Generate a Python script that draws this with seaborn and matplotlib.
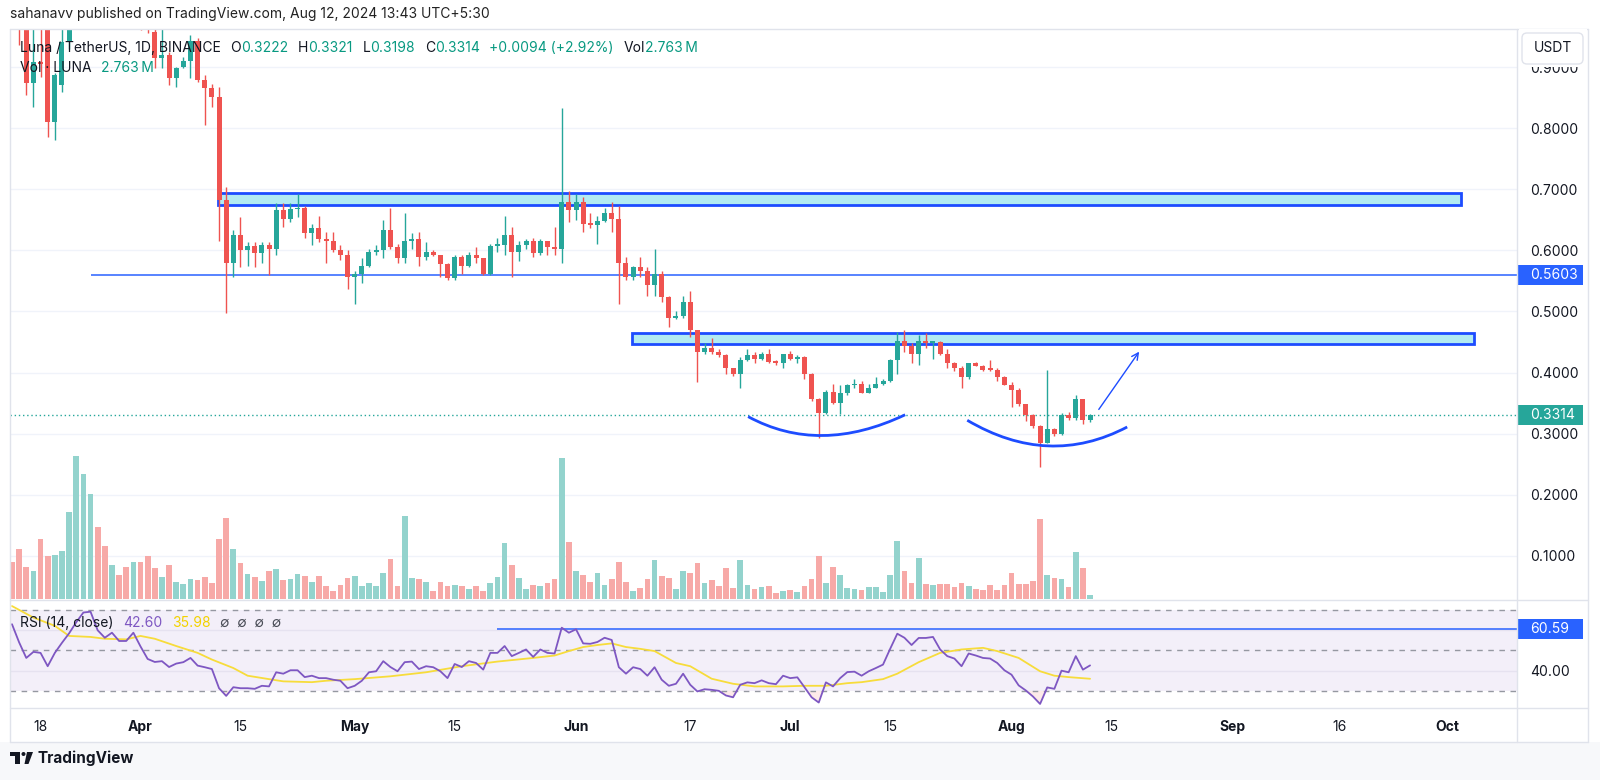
import numpy as np
import pandas as pd
import matplotlib
matplotlib.use('Agg')
import matplotlib.pyplot as plt
import matplotlib.dates as mdates
from matplotlib.patches import Rectangle, FancyBboxPatch, PathPatch, Circle, Polygon
from matplotlib.path import Path
from matplotlib.lines import Line2D
from matplotlib.transforms import blended_transform_factory, IdentityTransform
import seaborn as sns

sns.set_theme(style='white')
plt.rcParams['font.family'] = ['Inter', 'DejaVu Sans']

# ---- data (daily LUNA/USDT) ----
dates = pd.date_range('2024-03-14', periods=152, freq='D')

opens = [1.000, 0.990, 0.975, 0.874, 0.909, 0.975, 0.810, 0.870, 0.941, 0.975,
         1.010, 1.050, 1.065, 1.020, 1.000, 1.020, 1.000, 0.995, 1.020, 0.966,
         0.957, 0.915, 0.920, 0.882, 0.900, 0.910, 0.943, 0.879, 0.866, 0.851,
         0.682, 0.579, 0.625, 0.600, 0.607, 0.595, 0.608, 0.603, 0.666, 0.651,
         0.667, 0.670, 0.628, 0.636, 0.618, 0.616, 0.600, 0.593, 0.556, 0.562,
         0.575, 0.598, 0.601, 0.633, 0.605, 0.587, 0.615, 0.618, 0.589, 0.597,
         0.592, 0.577, 0.554, 0.589, 0.575, 0.593, 0.587, 0.562, 0.607, 0.609,
         0.626, 0.597, 0.608, 0.616, 0.595, 0.615, 0.605, 0.603, 0.680, 0.666,
         0.679, 0.643, 0.642, 0.648, 0.661, 0.652, 0.579, 0.556, 0.572, 0.566,
         0.543, 0.562, 0.523, 0.490, 0.493, 0.516, 0.469, 0.434, 0.441, 0.433,
         0.429, 0.407, 0.398, 0.421, 0.428, 0.423, 0.430, 0.418, 0.416, 0.430,
         0.423, 0.425, 0.398, 0.356, 0.334, 0.369, 0.351, 0.366, 0.379, 0.381,
         0.367, 0.375, 0.382, 0.387, 0.421, 0.451, 0.444, 0.430, 0.451, 0.448,
         0.450, 0.430, 0.415, 0.408, 0.392, 0.415, 0.411, 0.405, 0.404, 0.393,
         0.380, 0.372, 0.348, 0.330, 0.313, 0.285, 0.308, 0.300, 0.331, 0.325,
         0.356, 0.3222]
closes = [0.990, 0.975, 0.874, 0.909, 0.905, 0.810, 0.887, 0.941, 0.975, 1.010,
          1.050, 1.065, 1.020, 1.000, 1.020, 1.000, 0.995, 1.020, 0.966, 0.961,
          0.915, 0.920, 0.882, 0.898, 0.910, 0.943, 0.879, 0.866, 0.851, 0.682,
          0.579, 0.625, 0.600, 0.607, 0.595, 0.608, 0.603, 0.666, 0.651, 0.667,
          0.670, 0.628, 0.636, 0.618, 0.616, 0.600, 0.593, 0.556, 0.562, 0.575,
          0.598, 0.601, 0.633, 0.605, 0.587, 0.615, 0.618, 0.589, 0.597, 0.592,
          0.577, 0.554, 0.589, 0.575, 0.593, 0.587, 0.562, 0.607, 0.609, 0.626,
          0.597, 0.608, 0.616, 0.595, 0.615, 0.605, 0.603, 0.680, 0.666, 0.679,
          0.643, 0.642, 0.648, 0.661, 0.652, 0.579, 0.556, 0.572, 0.566, 0.543,
          0.562, 0.523, 0.490, 0.493, 0.516, 0.469, 0.434, 0.441, 0.433, 0.429,
          0.407, 0.398, 0.421, 0.428, 0.423, 0.430, 0.418, 0.416, 0.430, 0.423,
          0.425, 0.398, 0.356, 0.334, 0.369, 0.351, 0.366, 0.379, 0.381, 0.367,
          0.375, 0.382, 0.387, 0.421, 0.451, 0.444, 0.430, 0.451, 0.448, 0.450,
          0.430, 0.415, 0.408, 0.392, 0.415, 0.411, 0.405, 0.404, 0.393, 0.380,
          0.372, 0.348, 0.330, 0.313, 0.285, 0.308, 0.300, 0.331, 0.325, 0.356,
          0.3222, 0.3314]
highs = [1.010, 1.000, 0.980, 0.970, 0.965, 0.980, 0.890, 0.962, 0.990, 1.030,
         1.070, 1.090, 1.070, 1.030, 1.030, 1.025, 1.010, 1.030, 1.025, 0.975,
         0.964, 0.962, 0.925, 0.900, 0.916, 0.952, 0.947, 0.887, 0.872, 0.867,
         0.703, 0.633, 0.654, 0.613, 0.613, 0.613, 0.613, 0.677, 0.677, 0.677,
         0.693, 0.672, 0.644, 0.657, 0.630, 0.630, 0.608, 0.600, 0.567, 0.587,
         0.603, 0.608, 0.649, 0.670, 0.610, 0.662, 0.628, 0.630, 0.613, 0.600,
         0.593, 0.579, 0.592, 0.592, 0.598, 0.605, 0.588, 0.611, 0.621, 0.656,
         0.638, 0.616, 0.618, 0.620, 0.618, 0.616, 0.638, 0.833, 0.698, 0.693,
         0.687, 0.662, 0.657, 0.670, 0.679, 0.672, 0.589, 0.575, 0.589, 0.572,
         0.603, 0.566, 0.525, 0.500, 0.525, 0.533, 0.470, 0.448, 0.456, 0.438,
         0.430, 0.408, 0.425, 0.439, 0.433, 0.433, 0.438, 0.420, 0.431, 0.436,
         0.428, 0.427, 0.400, 0.359, 0.372, 0.382, 0.379, 0.382, 0.389, 0.387,
         0.382, 0.393, 0.390, 0.423, 0.467, 0.469, 0.448, 0.461, 0.464, 0.452,
         0.452, 0.439, 0.418, 0.411, 0.416, 0.418, 0.413, 0.420, 0.408, 0.395,
         0.384, 0.374, 0.349, 0.333, 0.315, 0.405, 0.310, 0.334, 0.336, 0.364,
         0.357, 0.3321]
lows = [0.975, 0.936, 0.854, 0.834, 0.884, 0.785, 0.780, 0.860, 0.930, 0.965,
        1.000, 1.030, 1.000, 0.985, 0.990, 0.990, 0.985, 0.990, 0.960, 0.955,
        0.898, 0.898, 0.870, 0.867, 0.898, 0.882, 0.875, 0.805, 0.834, 0.616,
        0.498, 0.557, 0.572, 0.575, 0.572, 0.579, 0.559, 0.592, 0.638, 0.646,
        0.654, 0.620, 0.608, 0.613, 0.580, 0.597, 0.584, 0.536, 0.513, 0.546,
        0.572, 0.592, 0.587, 0.603, 0.580, 0.580, 0.603, 0.575, 0.584, 0.590,
        0.556, 0.551, 0.551, 0.562, 0.572, 0.579, 0.559, 0.559, 0.597, 0.592,
        0.556, 0.582, 0.603, 0.589, 0.592, 0.592, 0.592, 0.579, 0.646, 0.649,
        0.630, 0.636, 0.611, 0.646, 0.630, 0.513, 0.551, 0.551, 0.556, 0.526,
        0.526, 0.515, 0.474, 0.488, 0.490, 0.459, 0.384, 0.430, 0.430, 0.425,
        0.398, 0.395, 0.375, 0.419, 0.415, 0.420, 0.416, 0.413, 0.407, 0.420,
        0.415, 0.389, 0.354, 0.293, 0.333, 0.349, 0.333, 0.364, 0.374, 0.366,
        0.366, 0.374, 0.380, 0.385, 0.398, 0.433, 0.416, 0.413, 0.441, 0.423,
        0.428, 0.407, 0.403, 0.374, 0.390, 0.410, 0.403, 0.403, 0.387, 0.379,
        0.343, 0.346, 0.321, 0.310, 0.246, 0.284, 0.297, 0.298, 0.323, 0.323,
        0.316, 0.3198]
volume = [23.5, 32.0, 20.7, 17.7, 38.4, 27.7, 28.2, 30.7, 55.5, 91.1,
          79.6, 67.2, 45.9, 34.1, 21.8, 15.4, 20.3, 23.5, 23.5, 27.3,
          19.8, 14.3, 21.8, 10.7, 9.6, 12.8, 12.2, 13.9, 10.2, 38.0,
          51.6, 32.0, 22.8, 16.0, 14.3, 11.7, 17.9, 19.2, 12.2, 12.8,
          16.0, 14.5, 11.1, 14.5, 8.5, 5.1, 9.0, 13.2, 14.9, 8.5,
          10.0, 8.5, 16.4, 25.6, 8.1, 52.9, 13.2, 12.8, 10.7, 5.1,
          10.7, 8.5, 9.0, 8.1, 6.4, 8.1, 5.1, 10.0, 13.9, 35.8,
          22.0, 13.2, 6.4, 9.0, 8.5, 10.0, 12.8, 90.2, 36.3, 17.9,
          15.4, 10.7, 16.4, 9.0, 12.8, 23.5, 11.1, 5.1, 7.2, 12.8,
          25.2, 14.7, 13.2, 6.2, 17.7, 16.4, 23.0, 10.0, 12.2, 8.3,
          19.8, 6.8, 24.8, 9.0, 6.4, 7.5, 8.5, 3.8, 5.3, 5.8,
          4.7, 8.1, 12.8, 27.7, 10.0, 20.7, 15.4, 7.0, 6.2, 5.8,
          7.9, 7.9, 4.7, 15.4, 37.3, 17.7, 10.0, 26.0, 9.4, 9.0,
          9.4, 9.6, 7.9, 10.2, 8.5, 6.2, 5.8, 9.0, 6.0, 9.0,
          16.4, 9.6, 9.6, 11.3, 51.2, 15.6, 13.4, 12.8, 7.9, 30.3,
          19.6, 2.763]
rsi = [63, 54, 46.3, 49.3, 48.8, 42.2, 48.8, 53.8, 58.5, 64,
       68.8, 69.2, 60, 56.3, 58.8, 54.7, 54.7, 58.8, 52, 45.8,
       44.3, 44.7, 41.8, 43.5, 44.2, 46.3, 42.5, 41.7, 40.8, 31.3,
       27.5, 31.8, 31.3, 31.3, 31, 32.5, 32.2, 39.2, 38.5, 40.2,
       40.2, 36.8, 37.5, 36.3, 36.3, 35.5, 35, 31.3, 32.5, 35,
       39.2, 39.7, 44.7, 41.8, 39.7, 44.2, 44.5, 40.8, 42.2, 41.7,
       39.7, 36.3, 43.3, 41.8, 44.7, 43.8, 40.5, 48.8, 48.8, 52.2,
       47.2, 48.8, 50.5, 46.8, 50.5, 48.8, 48.5, 61.3, 58.8, 60.5,
       53.5, 53.3, 54.2, 56.3, 55.2, 41.7, 38.5, 41.7, 40.8, 37.5,
       41.7, 35.5, 32.5, 33.5, 38.5, 33, 29.7, 30.8, 30.5, 30,
       27.7, 26.8, 33, 34.2, 33.8, 35.2, 33.8, 33.3, 37.5, 36.3,
       36.7, 31.8, 26.8, 24.2, 34.2, 32.2, 36.3, 39.3, 39.5, 37.5,
       39.7, 41.3, 43, 50.8, 58.3, 56.3, 52.7, 56.2, 56.2, 56.7,
       50.5, 47.2, 46, 42.2, 48.5, 47.5, 46.3, 46, 43.8, 40.2,
       38, 32.7, 30.2, 27.2, 23.5, 31.7, 31, 40, 39.2, 47.2,
       40.5, 42.6]
# RSI-based MA, read at these day offsets from the first candle
rsi_ma_day = [0, 3, 6, 8, 11, 13, 16, 18, 20, 23, 26, 28, 31, 33, 36, 38, 42, 44,
              48, 53, 58, 63, 68, 73, 76, 78, 80, 82, 84, 86, 88, 90, 93, 95, 98,
              101, 104, 108, 111, 114, 117, 119, 122, 124, 127, 130, 133, 136,
              138, 141, 144, 146, 148, 151]
rsi_ma = [72, 66.3, 62.2, 57.2, 56.7, 55.8, 55.5, 57.2, 55.8, 52.2, 48.8, 45.5,
          41.3, 37.5, 35.8, 34.7, 34.3, 35, 35.8, 37.2, 39.2, 42.2, 44.5, 46.3,
          47.5, 49.7, 51.7, 52.7, 53.5, 51.7, 50.8, 49.7, 43.8, 42.2, 36, 33.5,
          32.2, 32.2, 32.5, 32.5, 33.8, 34.3, 35.8, 38.5, 44.2, 48.8, 50.5, 51.3,
          49.7, 46.3, 39.7, 37.5, 36.8, 35.98]

tick_dates = ['2024-03-18', '2024-04-01', '2024-04-15', '2024-05-01', '2024-05-15',
              '2024-06-01', '2024-06-17', '2024-07-01', '2024-07-15', '2024-08-01',
              '2024-08-15', '2024-09-01', '2024-09-16', '2024-10-01']
tick_labels = ['18', 'Apr', '15', 'May', '15', 'Jun', '17', 'Jul', '15', 'Aug',
               '15', 'Sep', '16', 'Oct']
price_ticks = [0.1, 0.2, 0.3, 0.4, 0.5, 0.6, 0.7, 0.8, 0.9]

resist_line = 0.5603
last_close = 0.3314
rsi_level = 60.59

GREEN = '#26a69a'
RED = '#ef5350'
VOL_GREEN = '#93d3cd'
VOL_RED = '#f7a9a7'
BLUE = '#2962ff'
ARC_BLUE = '#1d4cff'
BOX_FILL = '#b2ebf2'
PURPLE = '#7e57c2'
YELLOW = '#f7dc3b'
TXT = '#131722'
FRAME = '#e0e3eb'

W, H = 1600, 780
fig = plt.figure(figsize=(W / 100, H / 100), dpi=100)
fig.patch.set_facecolor('white')


def frac(l, t, r, b):
    return [l / W, 1 - b / H, (r - l) / W, (b - t) / H]


ax = fig.add_axes(frac(10, 29, 1517, 599))
axr = fig.add_axes(frac(10, 600, 1517, 708), sharex=ax)
axv = ax.twinx()

x = mdates.date2num(dates)
x0 = x[0]
o, h, l, c = (np.array(a) for a in (opens, highs, lows, closes))
up = c >= o
ccol = np.where(up, GREEN, RED)
vcol = np.where(up, VOL_GREEN, VOL_RED)

# ---- main pane ----
for v in price_ticks:
    ax.axhline(v, color='#f0f3fa', lw=1, zorder=0)
ax.vlines(x, l, h, colors=ccol, lw=1, zorder=3)
ax.bar(x, np.maximum(np.abs(c - o), 0.003), bottom=np.minimum(o, c), width=0.7,
       color=ccol, lw=0, zorder=3)

axv.bar(x, volume, width=0.8, color=vcol, lw=0)
axv.set_ylim(0, 364)
axv.axis('off')

ax.set_xlim(x0 - 0.28, x0 + 210.8)
ax.set_ylim(0.0295, 0.9623)

# zones
ax.add_patch(Rectangle((x0 + 28.9, 0.674), 203.0 - 28.9, 0.0195, fc=BOX_FILL,
                       ec=ARC_BLUE, lw=2, zorder=2))
ax.add_patch(Rectangle((x0 + 86.9, 0.446), 204.8 - 86.9, 0.0185, fc=BOX_FILL,
                       ec=ARC_BLUE, lw=2, zorder=2))
ax.hlines(resist_line, x0 + 11.06, x0 + 215, color=BLUE, lw=1.1, zorder=2)
ax.axhline(last_close, color=GREEN, lw=1, ls=(0, (1, 2)), zorder=2)


def arc(p0, pb, p2):
    ctrl = (2 * pb[0] - (p0[0] + p2[0]) / 2, 2 * pb[1] - (p0[1] + p2[1]) / 2)
    path = Path([p0, ctrl, p2], [Path.MOVETO, Path.CURVE3, Path.CURVE3])
    ax.add_patch(PathPatch(path, fc='none', ec=ARC_BLUE, lw=2, zorder=4))


arc((x0 + 103.1, 0.328), (x0 + 113.6, 0.297), (x0 + 125.1, 0.331))
arc((x0 + 133.8, 0.322), (x0 + 145.1, 0.280), (x0 + 156.2, 0.311))
ax.annotate('', xy=(x0 + 158.1, 0.438), xytext=(x0 + 152.0, 0.336),
            arrowprops=dict(arrowstyle='->', color=ARC_BLUE, lw=1, mutation_scale=12),
            zorder=4)

ax.yaxis.tick_right()
ax.set_yticks(price_ticks)
ax.set_yticklabels([f'{v:.4f}' for v in price_ticks])
ax.tick_params(axis='y', length=0, pad=9.4, labelsize=10, labelcolor=TXT)
ax.tick_params(axis='x', length=0, labelbottom=False)

# ---- RSI pane ----
axr.axhspan(30, 70, color=PURPLE, alpha=0.09, lw=0)
for v in (60, 40):
    axr.axhline(v, color='#e6e2f0', lw=1)
for v in (70, 50, 30):
    axr.axhline(v, color='#9598a1', lw=1, ls=(0, (4, 4)))
r = np.array(rsi)
axr.fill_between(x, r, 30, where=r < 30, interpolate=True, color=RED, alpha=0.12, lw=0)
axr.hlines(rsi_level, x0 + 67.9, x0 + 215, color=BLUE, lw=1.1)
sns.lineplot(x=x0 + np.array(rsi_ma_day), y=rsi_ma, ax=axr, color=YELLOW, lw=1.3)
sns.lineplot(x=x, y=r, ax=axr, color=PURPLE, lw=1.3)
axr.set_ylim(21.5, 75)
axr.yaxis.tick_right()
axr.set_yticks([40])
axr.set_yticklabels(['40.00'])
axr.tick_params(axis='y', length=0, pad=9.4, labelsize=10, labelcolor=TXT)
axr.set_xticks(mdates.date2num(pd.to_datetime(tick_dates)))
axr.set_xticklabels(tick_labels)
axr.tick_params(axis='x', length=0, pad=8.5, labelsize=10, labelcolor=TXT)
for lab in axr.get_xticklabels():
    if not lab.get_text().isdigit():
        lab.set_fontweight('bold')
axr.set_xlabel('')
axr.set_ylabel('')

for a in (ax, axr, axv):
    for s in a.spines.values():
        s.set_visible(False)


# value tags on the right scale
def tag(axis, yval, text, color):
    tr = blended_transform_factory(axis.transAxes, axis.transData)
    y0, y1 = axis.get_ylim()
    half = 10 / (axis.bbox.height) * (y1 - y0)
    axis.add_patch(Rectangle((1.0005, yval - half), 65 / 1507, 2 * half, transform=tr,
                             fc=color, ec='none', clip_on=False, zorder=6))
    axis.text(1 + 13 / 1507, yval, text, transform=tr, ha='left', va='center',
              color='white', fontsize=10, zorder=7, clip_on=False)


tag(ax, resist_line, f'{resist_line:.4f}', BLUE)
tag(ax, last_close, f'{last_close:.4f}', GREEN)
tag(axr, rsi_level, f'{rsi_level:.2f}', BLUE)


# ---- legends / header texts ----
def chain(axis, x_px, y_px, parts, size=10):
    t = axis.annotate(parts[0][0], xy=(x_px, H - y_px), xycoords='figure pixels',
                      color=parts[0][1], fontsize=size, va='center', ha='left',
                      zorder=10, annotation_clip=False)
    for s, col, gap in parts[1:]:
        t = axis.annotate(s, xy=(1, 0.5), xycoords=t, xytext=(gap, 0),
                          textcoords='offset points', color=col, fontsize=size,
                          va='center', ha='left', zorder=10, annotation_clip=False)


TEAL = '#089981'
chain(ax, 20, 48, [('Luna / TetherUS, 1D, BINANCE', TXT, 0), ('O', TXT, 7),
                   ('0.3222', TEAL, 0), ('H', TXT, 7), ('0.3321', TEAL, 0),
                   ('L', TXT, 7), ('0.3198', TEAL, 0), ('C', TXT, 7),
                   ('0.3314', TEAL, 0), ('+0.0094 (+2.92%)', TEAL, 7),
                   ('Vol', TXT, 7), ('2.763\u2009M', TEAL, 0)])
chain(ax, 20, 68, [('Vol · LUNA', TXT, 0), ('2.763\u2009M', TEAL, 7)])
chain(axr, 20, 623, [('RSI (14, close)', TXT, 0), ('42.60', PURPLE, 7),
                     ('35.98', '#f2d200', 7), ('∅  ∅  ∅  ∅', '#4a4d57', 7)])

fig.text(10 / W, 1 - 14 / H, 'sahanavv published on TradingView.com, Aug 12, 2024 13:43 UTC+5:30',
         fontsize=10, color='#222222', va='center', ha='left')

# frame lines
for y in (29, 599.5, 708, 742):
    fig.add_artist(Line2D([10 / W, 1588 / W], [1 - y / H] * 2, color=FRAME, lw=1))
for xx in (10, 1517, 1588):
    fig.add_artist(Line2D([xx / W] * 2, [1 - 29 / H, 1 - 742 / H], color=FRAME, lw=1))

# footer band and logo
fig.patches.append(Rectangle((0, 0), 1, 38 / H, transform=fig.transFigure,
                             fc='#f7f8fa', ec='none', zorder=0))
px = IdentityTransform()
fig.patches.append(Rectangle((10, H - 756), 10, 4, transform=px, fc=TXT, ec='none'))
fig.patches.append(Rectangle((15, H - 764), 5, 12, transform=px, fc=TXT, ec='none'))
fig.patches.append(Circle((23.5, H - 754), 2, transform=px, fc=TXT, ec='none'))
fig.patches.append(Polygon([(27, H - 752), (33, H - 752), (28.5, H - 764), (24.5, H - 764)],
                           closed=True, transform=px, fc=TXT, ec='none'))
fig.text(37 / W, 1 - 758 / H, 'TradingView', fontsize=11, fontweight='bold',
         color=TXT, va='center', ha='left')

# currency button (covers the top half of the 0.9000 label, as in the app)
fig.patches.append(Rectangle((1519, H - 67), 68, 38, transform=px, fc='white',
                             ec='none', zorder=4))
fig.patches.append(FancyBboxPatch((1522, H - 64), 61, 31, boxstyle='round,pad=0,rounding_size=5',
                                  transform=px, fc='white', ec=FRAME, lw=1, zorder=5))
fig.text(1553 / W, 1 - 48 / H, 'USDT', fontsize=10, color=TXT, ha='center', va='center', zorder=6)

fig.savefig('out.png', dpi=100)
